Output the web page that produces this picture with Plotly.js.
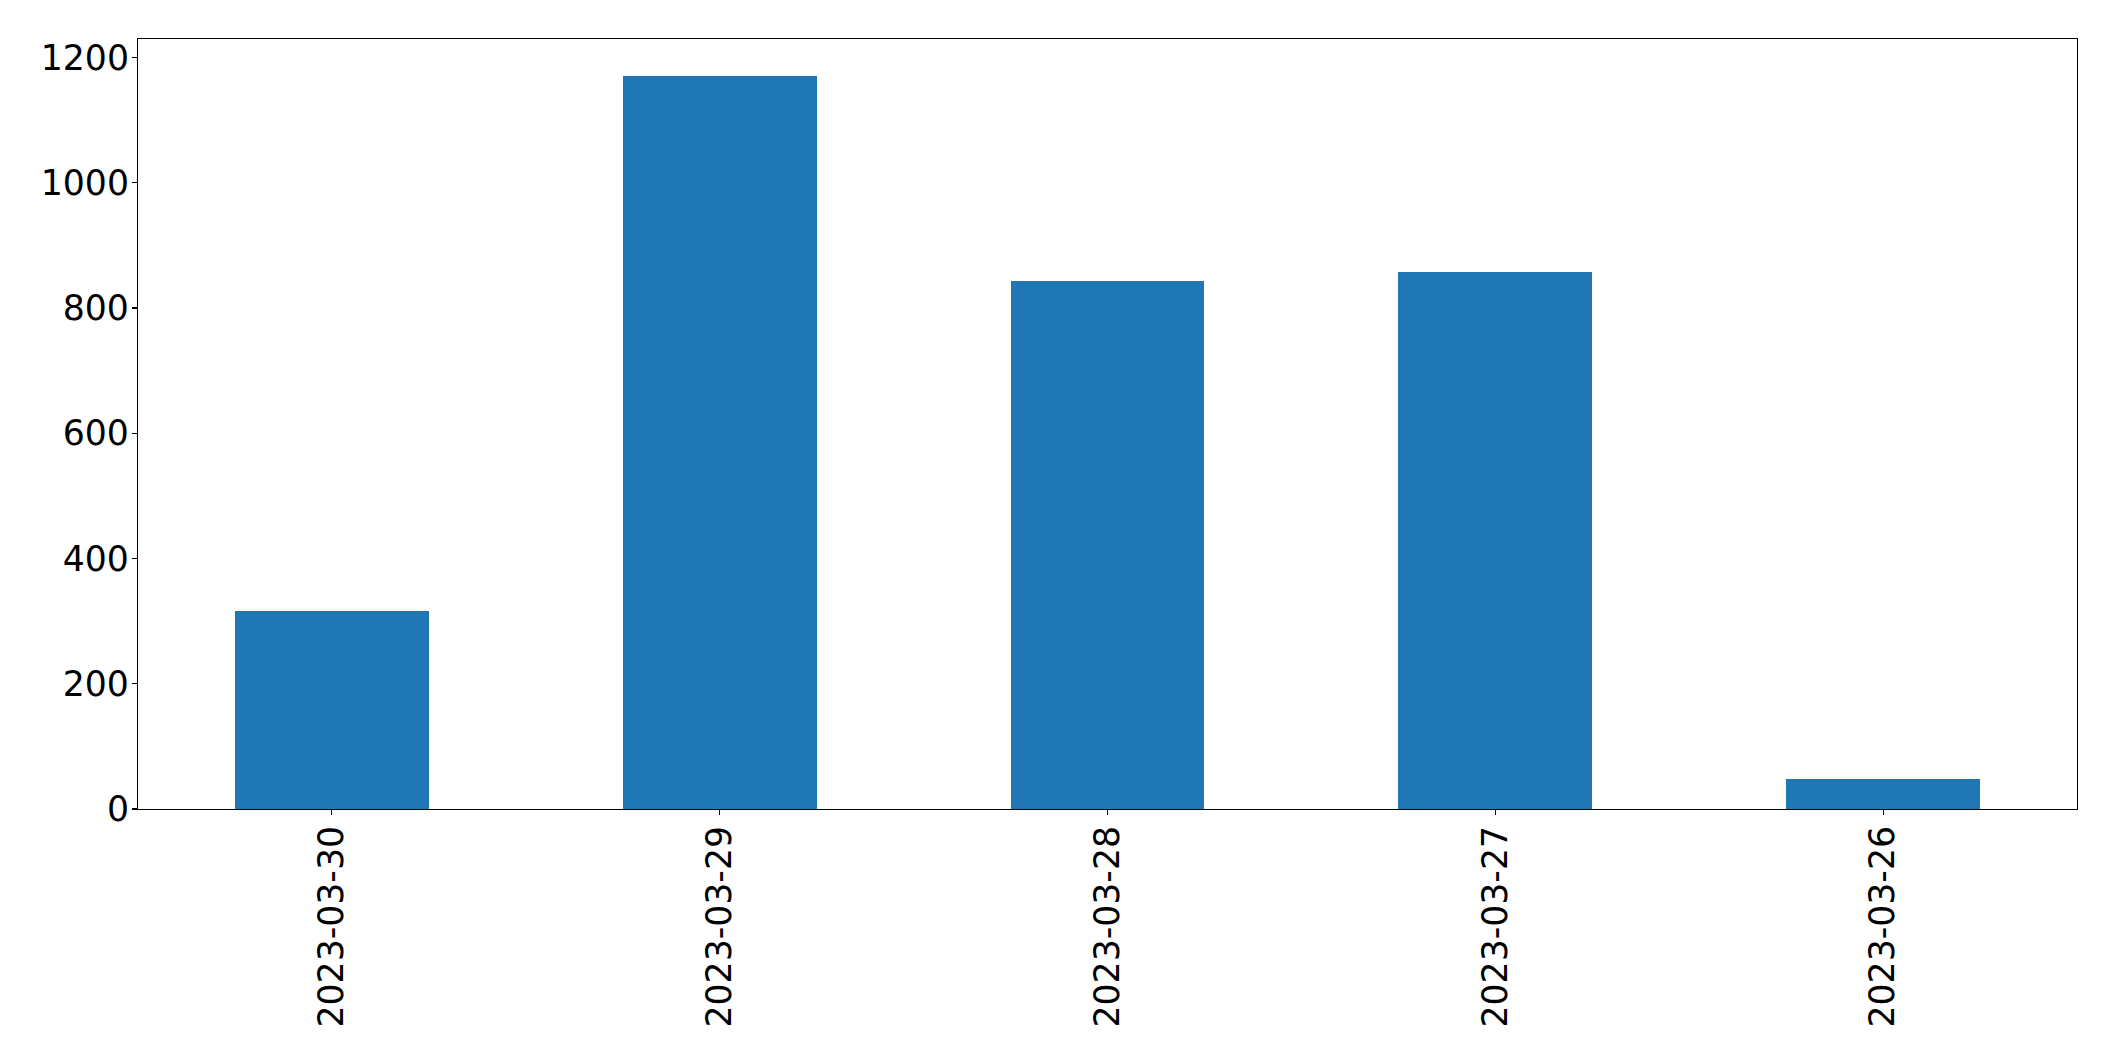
<!DOCTYPE html>
<html>
<head>
<meta charset="utf-8">
<script src="https://cdn.plot.ly/plotly-3.0.1.min.js"></script>
<style>html,body{margin:0;padding:0;background:#fff;}#chart{width:2115px;height:1061px;}</style>
</head>
<body>
<div id="chart"></div>
<script>
const categories = ["2023-03-30", "2023-03-29", "2023-03-28", "2023-03-27", "2023-03-26"];
const values = [316, 1171, 843, 857, 48];
const yTickValues = [0, 200, 400, 600, 800, 1000, 1200];

const trace = {
  type: "bar",
  x: categories,
  y: values,
  width: 0.5,
  marker: {color: "#1f77b4", line: {width: 0}},
  hoverinfo: "x+y"
};

const axisFont = {family: "DejaVu Sans, sans-serif", size: 34.7, color: "#000"};

const layout = {
  width: 2115,
  height: 1061,
  margin: {l: 138.3, r: 38.3, t: 39.3, b: 252, pad: 0},
  paper_bgcolor: "#fff",
  plot_bgcolor: "#fff",
  showlegend: false,
  bargap: 0,
  xaxis: {
    type: "category",
    range: [-0.5, 4.5],
    tickangle: -90,
    ticks: "outside",
    ticklen: 5,
    tickwidth: 1.1,
    tickcolor: "#000",
    ticklabelstandoff: -3,
    showline: true,
    linecolor: "#000",
    linewidth: 1.1,
    mirror: true,
    showgrid: false,
    zeroline: false,
    tickfont: axisFont
  },
  yaxis: {
    range: [0, 1229.5],
    tickvals: yTickValues,
    ticktext: yTickValues.map(String),
    ticks: "outside",
    ticklen: 5,
    tickwidth: 1.1,
    tickcolor: "#000",
    ticklabelstandoff: -4,
    showline: true,
    linecolor: "#000",
    linewidth: 1.1,
    mirror: true,
    showgrid: false,
    zeroline: false,
    tickfont: axisFont
  }
};

Plotly.newPlot("chart", [trace], layout, {displayModeBar: false, staticPlot: true});
</script>
</body>
</html>
